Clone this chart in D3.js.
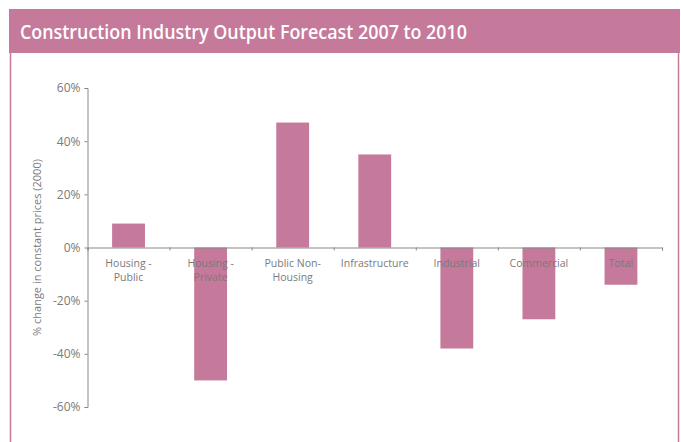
<!DOCTYPE html>
<html lang="en">
<head>
<meta charset="UTF-8">
<script src="https://d3js.org/d3.v7.min.js"></script>
<style>
  body { margin: 0; background: #fff; }
  text { font-family: "Open Sans", "Noto Sans", sans-serif; }
</style>
</head>
<body>
<svg id="chart" width="681" height="442"></svg>
<script>
    // data
    var categories = [
        ["Housing -", "Public"],
        ["Housing -", "Private"],
        ["Public Non-", "Housing"],
        ["Infrastructure"],
        ["Industrial"],
        ["Commercial"],
        ["Total"]
    ];
    var values = [9, -50, 47, 35, -38, -27, -14];
    var yTicks = [60, 40, 20, 0, -20, -40, -60];

    var pink = "#c5799b";
    var grey = "#7a7a7a";

    var svg = d3.select("#chart");

    // frame + title band
    svg.append("rect")
        .attr("x", 10.5).attr("y", 30)
        .attr("width", 668).attr("height", 420)
        .attr("fill", "none")
        .attr("stroke", pink)
        .attr("stroke-width", 1.5);

    svg.append("rect")
        .attr("x", 9).attr("y", 9)
        .attr("width", 671).attr("height", 44)
        .attr("fill", pink);

    svg.append("text")
        .attr("x", 20).attr("y", 39)
        .attr("fill", "#fff")
        .attr("font-size", 20)
        .attr("font-weight", 600)
        .attr("textLength", 447)
        .attr("lengthAdjust", "spacingAndGlyphs")
        .text("Construction Industry Output Forecast 2007 to 2010");

    // scales
    var left = 87.5, right = 662;
    var x = d3.scaleBand()
        .domain(d3.range(categories.length))
        .range([left, right])
        .paddingInner(0.6)
        .paddingOuter(0.3);

    var y = d3.scaleLinear()
        .domain([-60, 60])
        .range([407, 88]);

    // y axis
    var yAxis = svg.append("g")
        .attr("transform", "translate(" + left + ",0)")
        .call(d3.axisLeft(y).tickValues(yTicks).tickSize(3).tickPadding(4)
            .tickFormat(function (d) { return d + "%"; }));
    yAxis.select(".domain").attr("stroke", "#888");
    yAxis.selectAll(".tick line").attr("stroke", "#888");
    yAxis.selectAll(".tick text")
        .attr("fill", grey)
        .attr("font-size", 12)
        .style("font-family", "'Open Sans', sans-serif");

    // bars
    svg.append("g")
        .selectAll("rect")
        .data(values)
        .enter()
        .append("rect")
        .attr("x", function (d, i) { return x(i); })
        .attr("width", x.bandwidth())
        .attr("y", function (d) { return y(Math.max(0, d)); })
        .attr("height", function (d) { return Math.abs(y(d) - y(0)); })
        .attr("fill", pink);

    // x axis line at zero with tick marks between categories
    var xAxisScale = d3.scaleLinear().domain([0, categories.length]).range([left, right]);
    var xAxis = svg.append("g")
        .attr("transform", "translate(0," + y(0) + ")")
        .call(d3.axisBottom(xAxisScale).ticks(categories.length).tickSize(3).tickSizeOuter(3)
            .tickFormat(""));
    xAxis.select(".domain").attr("stroke", "#888");
    xAxis.selectAll(".tick line").attr("stroke", "#888");

    // category labels, one text per line
    var labels = svg.append("g");
    categories.forEach(function (lines, i) {
        lines.forEach(function (line, j) {
            labels.append("text")
                .attr("x", xAxisScale(i + 0.5))
                .attr("y", 266.5 + j * 14.5)
                .attr("text-anchor", "middle")
                .attr("font-size", 10.5)
                .attr("fill", grey)
                .text(line);
        });
    });

    // y axis title
    svg.append("text")
        .attr("transform", "translate(41," + y(0) + ") rotate(-90)")
        .attr("text-anchor", "middle")
        .attr("font-size", 11)
        .attr("fill", grey)
        .text("% change in constant prices (2000)");
</script>
</body>
</html>
